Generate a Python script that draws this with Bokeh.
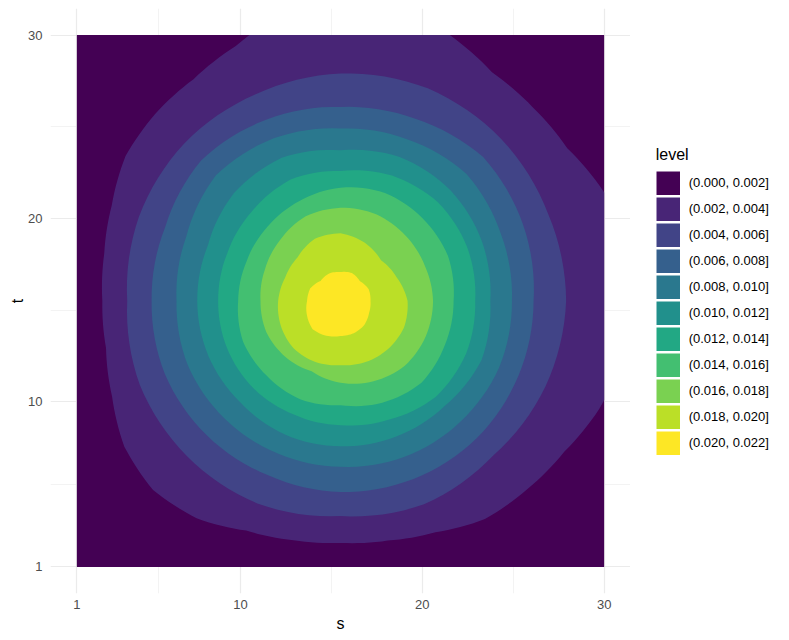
import math
from bokeh.plotting import figure
from bokeh.layouts import row
from bokeh.models import Range1d, FixedTicker, Legend, LegendItem
from bokeh.embed import file_html
from bokeh.resources import INLINE

# ---- data ----
s_min, s_max = 1, 30
t_min, t_max = 1, 30
center_s, center_t = 15.5, 15.5
levels = [0.000, 0.002, 0.004, 0.006, 0.008, 0.010, 0.012, 0.014, 0.016, 0.018, 0.020, 0.022]
tick_vals = [1, 10, 20, 30]
tick_labels = ["1", "10", "20", "30"]
minor_vals = [5.5, 15, 25]

# outermost contour (0.002): radius from the centre at 32 directions
angles_outer = [0, 11.25, 22.5, 33.75, 45, 56.25, 67.5, 78.75, 90, 101.25, 112.5, 123.75,
                135, 146.25, 157.5, 168.75, 180, 191.25, 202.5, 213.75, 225, 236.25, 247.5,
                258.75, 270, 281.25, 292.5, 303.75, 315, 326.25, 337.5, 348.75]
r_002 = [16.0, 16.0, 15.65, 15.0, 14.95, 15.0, 15.7, 16.2, 16.3, 16.0, 15.05, 14.55,
         14.42, 14.22, 13.62, 13.25, 13.1, 13.15, 13.6, 14.3, 14.58, 14.25, 13.55,
         13.3, 13.19, 13.32, 13.65, 14.3, 14.52, 14.8, 15.4, 15.8]

# inner contours: radius from the centre at 16 directions
angles_deg = [0, 22.5, 45, 67.5, 90, 112.5, 135, 157.5, 180, 202.5, 225, 247.5, 270, 292.5, 315, 337.5]
r_004 = [12.41, 12.37, 12.5, 12.55, 12.40, 12.2, 12.15, 12.0, 11.73, 11.95, 11.95, 11.95, 11.73, 12.0, 11.9, 12.2]
r_006 = [10.62, 10.87, 11.1, 10.75, 10.58, 10.7, 10.84, 10.45, 10.39, 10.45, 10.38, 10.3, 10.41, 10.5, 10.59, 10.6]
r_008 = [9.43, 9.55, 9.8, 9.55, 9.40, 9.6, 9.69, 9.18, 9.02, 9.1, 9.04, 9.0, 9.04, 9.2, 9.32, 9.45]
r_010 = [8.24, 8.43, 8.55, 8.5, 8.22, 8.45, 8.3, 7.9, 7.88, 7.86, 7.8, 7.9, 7.92, 8.0, 8.1, 8.4]
r_012 = [7.41, 7.56, 7.6, 7.4, 7.09, 7.17, 6.9, 6.75, 6.73, 6.75, 6.75, 6.7, 6.77, 7.0, 7.4, 7.48]
r_014 = [6.22, 6.4, 6.38, 6.38, 6.18, 5.9, 5.7, 5.6, 5.63, 5.8, 5.75, 5.8, 5.68, 6.0, 6.3, 6.22]
r_016 = [5.09, 5.02, 5.05, 5.12, 5.08, 5.0, 4.7, 4.5, 4.4, 4.42, 4.3, 4.15, 4.46, 4.74, 5.0, 5.07]
r_018 = [3.69, 3.35, 3.15, 3.45, 3.69, 3.68, 3.35, 3.3, 3.43, 3.55, 3.65, 3.6, 3.5, 3.6, 3.7, 3.78]
r_020 = [1.65, 1.68, 1.52, 1.65, 1.58, 1.63, 1.55, 1.8, 1.84, 2.0, 2.17, 2.05, 1.91, 1.9, 1.85, 1.7]

contours = [(angles_outer, r_002)] + [(angles_deg, r) for r in
            (r_004, r_006, r_008, r_010, r_012, r_014, r_016, r_018, r_020)]

colors = ["#440154", "#482576", "#414487", "#35608D", "#2A788E", "#21908C",
          "#22A884", "#43BF71", "#7AD151", "#BBDF27", "#FDE725"]
band_labels = ["(%.3f, %.3f]" % (levels[i], levels[i + 1]) for i in range(len(levels) - 1)]


def contour_polygon(angles, radii, sub=8):
    pts = []
    n = len(angles)
    for i in range(n):
        a0 = angles[i]
        a1 = angles[(i + 1) % n] + (360 if i == n - 1 else 0)
        r0, r1 = radii[i], radii[(i + 1) % n]
        for k in range(sub):
            f = k / sub
            a = math.radians(a0 + (a1 - a0) * f)
            r = r0 + (r1 - r0) * f
            pts.append((center_s + r * math.cos(a), center_t + r * math.sin(a)))
    return pts


def clip_to_box(pts, xmin, xmax, ymin, ymax):
    def clip(points, inside, inter):
        out = []
        for i in range(len(points)):
            cur, prev = points[i], points[i - 1]
            if inside(cur):
                if not inside(prev):
                    out.append(inter(prev, cur))
                out.append(cur)
            elif inside(prev):
                out.append(inter(prev, cur))
        return out

    def ix(p, q, x):
        f = (x - p[0]) / (q[0] - p[0])
        return (x, p[1] + f * (q[1] - p[1]))

    def iy(p, q, y):
        f = (y - p[1]) / (q[1] - p[1])
        return (p[0] + f * (q[0] - p[0]), y)

    pts = clip(pts, lambda p: p[0] >= xmin, lambda p, q: ix(p, q, xmin))
    pts = clip(pts, lambda p: p[0] <= xmax, lambda p, q: ix(p, q, xmax))
    pts = clip(pts, lambda p: p[1] >= ymin, lambda p, q: iy(p, q, ymin))
    pts = clip(pts, lambda p: p[1] <= ymax, lambda p, q: iy(p, q, ymax))
    return pts


# ---- main panel ----
p = figure(width=630, height=640,
           x_range=Range1d(-0.45, 31.45), y_range=Range1d(-0.45, 31.45),
           output_backend="svg", toolbar_location=None,
           min_border_left=50, min_border_right=0, min_border_top=8, min_border_bottom=47,
           x_axis_label="s", y_axis_label="t")
p.outline_line_color = None
p.background_fill_color = "white"
p.border_fill_color = "white"

p.quad(left=[s_min], right=[s_max], bottom=[t_min], top=[t_max],
       fill_color=colors[0], line_color=None)
for i, (angs, radii) in enumerate(contours):
    poly = clip_to_box(contour_polygon(angs, radii), s_min, s_max, t_min, t_max)
    p.patch([q[0] for q in poly], [q[1] for q in poly],
            fill_color=colors[i + 1], line_color=None)

for ax in (p.xaxis[0], p.yaxis[0]):
    ax.ticker = FixedTicker(ticks=tick_vals, minor_ticks=minor_vals)
    ax.major_label_overrides = {v: l for v, l in zip(tick_vals, tick_labels)}
    ax.axis_line_color = None
    ax.major_tick_line_color = None
    ax.minor_tick_line_color = None
    ax.major_tick_out = 0
    ax.major_tick_in = 0
    ax.minor_tick_out = 0
    ax.minor_tick_in = 0
    ax.major_label_text_font = "Liberation Sans"
    ax.major_label_text_font_size = "13px"
    ax.major_label_text_color = "#4D4D4D"
    ax.axis_label_text_font = "Liberation Sans"
    ax.axis_label_text_font_size = "16px"
    ax.axis_label_text_font_style = "normal"
    ax.axis_label_text_color = "black"
p.xaxis[0].major_label_standoff = 6
p.xaxis[0].axis_label_standoff = 3
p.yaxis[0].major_label_standoff = 8
p.yaxis[0].axis_label_standoff = -1

for g in (p.xgrid[0], p.ygrid[0]):
    g.grid_line_color = "#EBEBEB"
    g.grid_line_width = 1.2
    g.minor_grid_line_color = "#EBEBEB"
    g.minor_grid_line_width = 0.6

# ---- legend panel (key glyphs sit outside the view, shown only in the legend) ----
lf = figure(width=159, height=640, x_range=Range1d(0, 1), y_range=Range1d(0, 1),
            output_backend="svg", toolbar_location=None,
            x_axis_type=None, y_axis_type=None,
            min_border_left=0, min_border_right=0, min_border_top=0, min_border_bottom=0)
lf.outline_line_color = None
lf.background_fill_color = "white"
lf.border_fill_color = "white"
key_renderers = [lf.line(x=[2, 3], y=[2, 2], line_color=c, line_width=24, line_cap="butt")
                 for c in colors]
items = [LegendItem(label=lab, renderers=[r]) for lab, r in zip(band_labels, key_renderers)]
legend = Legend(items=items, location=(25.7, 138.3), title="level",
                title_text_font="Liberation Sans", title_text_font_size="16px",
                title_text_font_style="normal", title_text_color="black", title_standoff=7,
                label_text_font="Liberation Sans", label_text_font_size="13px",
                label_text_color="black", glyph_width=24, glyph_height=24, label_height=24,
                label_standoff=9, spacing=2, padding=0, margin=0,
                border_line_color=None, background_fill_alpha=0)
lf.add_layout(legend)

layout = row(p, lf)
open("out.html", "w").write(file_html(layout, INLINE))
